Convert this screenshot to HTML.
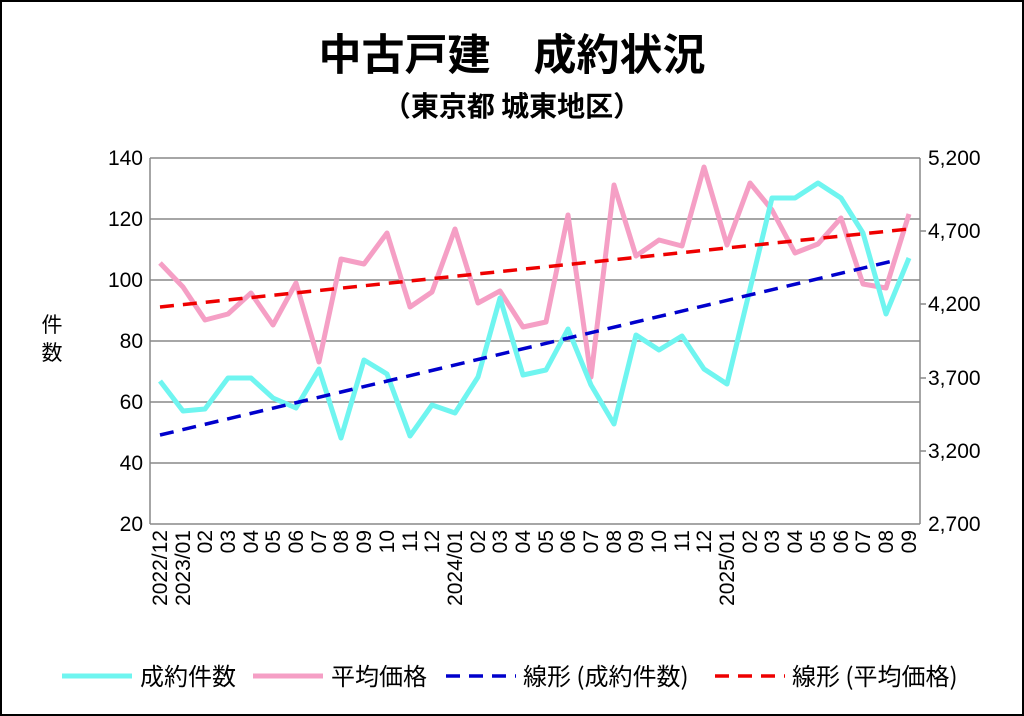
<!DOCTYPE html>
<html><head><meta charset="utf-8"><style>
html,body{margin:0;padding:0;background:#fff}
svg{display:block;font-family:"Liberation Sans","Noto Sans CJK JP",sans-serif}
</style></head><body>
<svg width="1024" height="716" viewBox="0 0 1024 716">
<rect x="1" y="1" width="1022" height="714" fill="#fff" stroke="#000" stroke-width="2"/>
<text x="512" y="70" text-anchor="middle" font-size="43" font-weight="bold" font-family="'Noto Sans CJK JP',sans-serif">中古戸建　成約状況</text>
<text x="512" y="116" text-anchor="middle" font-size="28" font-weight="bold" font-family="'Noto Sans CJK JP',sans-serif">（東京都 城東地区）</text>
<g stroke="#888" stroke-width="1.5">
<line x1="150" y1="158" x2="920" y2="158"/><line x1="150" y1="219" x2="920" y2="219"/>
<line x1="150" y1="280" x2="920" y2="280"/><line x1="150" y1="341" x2="920" y2="341"/>
<line x1="150" y1="402" x2="920" y2="402"/><line x1="150" y1="463" x2="920" y2="463"/>
<line x1="150" y1="524" x2="920" y2="524"/>
<line x1="150" y1="158" x2="150" y2="524"/><line x1="920" y1="158" x2="920" y2="524"/>
<line x1="920" y1="231" x2="926" y2="231"/><line x1="920" y1="304" x2="926" y2="304"/>
<line x1="920" y1="378" x2="926" y2="378"/><line x1="920" y1="451" x2="926" y2="451"/>
</g>
<g font-size="21" text-anchor="end">
<text x="143" y="165">140</text><text x="143" y="226">120</text><text x="143" y="287">100</text>
<text x="143" y="348">80</text><text x="143" y="409">60</text><text x="143" y="470">40</text><text x="143" y="531">20</text>
</g>
<g font-size="21">
<text x="928" y="165">5,200</text><text x="928" y="238">4,700</text><text x="928" y="311">4,200</text>
<text x="928" y="385">3,700</text><text x="928" y="458">3,200</text><text x="928" y="531">2,700</text>
</g>
<text x="52" y="332" font-size="21" text-anchor="middle" font-family="'Noto Sans CJK JP',sans-serif">件</text>
<text x="52" y="360" font-size="21" text-anchor="middle" font-family="'Noto Sans CJK JP',sans-serif">数</text>
<polyline fill="none" stroke="#f59fc5" stroke-width="5" stroke-linejoin="round" points="160,263 183,287 205,320 228,314 251,293 273,325 296,283 319,362 341,259 364,264 387,233 410,307 432,292 455,229 478,303 500,291 523,327 546,322 568,215 591,377 614,185 636,256 659,240 682,246 704,167 727,245 750,183 772,210 795,253 818,244 841,218 863,284 886,288 909,214"/>
<polyline fill="none" stroke="#6ff5f0" stroke-width="5" stroke-linejoin="round" points="160,381 183,411 205,409 228,378 251,378 273,398 296,408 319,369 341,438 364,360 387,374 410,436 432,405 455,413 478,377 500,298 523,375 546,370 568,329 591,385 614,424 636,335 659,350 682,336 704,369 727,384 750,289 772,198 795,198 818,183 841,198 863,233 886,314 909,258"/>
<line x1="160" y1="307" x2="909" y2="229" stroke="#e00" stroke-width="3.5" stroke-dasharray="14,9"/>
<line x1="160" y1="435" x2="897" y2="260" stroke="#00c" stroke-width="3.5" stroke-dasharray="14,9"/>
<g font-size="24" font-family="'Noto Sans CJK JP',sans-serif">
<line x1="62" y1="676" x2="132" y2="676" stroke="#6ff5f0" stroke-width="5"/><text x="140" y="685">成約件数</text>
<line x1="253" y1="676" x2="323" y2="676" stroke="#f59fc5" stroke-width="5"/><text x="331" y="685">平均価格</text>
<line x1="446" y1="676" x2="516" y2="676" stroke="#00c" stroke-width="3.5" stroke-dasharray="14,9"/><text x="523" y="685">線形 (成約件数)</text>
<line x1="715" y1="676" x2="785" y2="676" stroke="#e00" stroke-width="3.5" stroke-dasharray="14,9"/><text x="792" y="685">線形 (平均価格)</text>
</g>
<g font-size="21" text-anchor="end">
<text transform="translate(167,530) rotate(-90)">2022/12</text>
<text transform="translate(190,530) rotate(-90)">2023/01</text>
<text transform="translate(212,530) rotate(-90)">02</text>
<text transform="translate(235,530) rotate(-90)">03</text>
<text transform="translate(258,530) rotate(-90)">04</text>
<text transform="translate(280,530) rotate(-90)">05</text>
<text transform="translate(303,530) rotate(-90)">06</text>
<text transform="translate(326,530) rotate(-90)">07</text>
<text transform="translate(348,530) rotate(-90)">08</text>
<text transform="translate(371,530) rotate(-90)">09</text>
<text transform="translate(394,530) rotate(-90)">10</text>
<text transform="translate(417,530) rotate(-90)">11</text>
<text transform="translate(439,530) rotate(-90)">12</text>
<text transform="translate(462,530) rotate(-90)">2024/01</text>
<text transform="translate(485,530) rotate(-90)">02</text>
<text transform="translate(507,530) rotate(-90)">03</text>
<text transform="translate(530,530) rotate(-90)">04</text>
<text transform="translate(553,530) rotate(-90)">05</text>
<text transform="translate(575,530) rotate(-90)">06</text>
<text transform="translate(598,530) rotate(-90)">07</text>
<text transform="translate(621,530) rotate(-90)">08</text>
<text transform="translate(643,530) rotate(-90)">09</text>
<text transform="translate(666,530) rotate(-90)">10</text>
<text transform="translate(689,530) rotate(-90)">11</text>
<text transform="translate(711,530) rotate(-90)">12</text>
<text transform="translate(734,530) rotate(-90)">2025/01</text>
<text transform="translate(757,530) rotate(-90)">02</text>
<text transform="translate(779,530) rotate(-90)">03</text>
<text transform="translate(802,530) rotate(-90)">04</text>
<text transform="translate(825,530) rotate(-90)">05</text>
<text transform="translate(848,530) rotate(-90)">06</text>
<text transform="translate(870,530) rotate(-90)">07</text>
<text transform="translate(893,530) rotate(-90)">08</text>
<text transform="translate(916,530) rotate(-90)">09</text>
</g>
</svg>
</body></html>
